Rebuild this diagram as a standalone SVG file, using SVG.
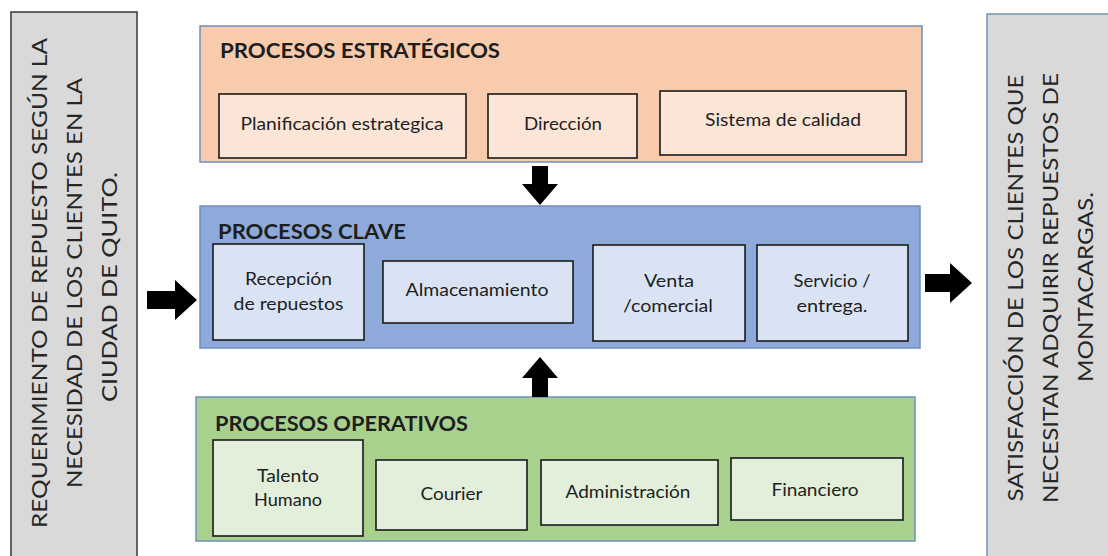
<svg xmlns="http://www.w3.org/2000/svg" width="1108" height="556" viewBox="0 0 1108 556">
<style>
text{font-family:Lato,"Liberation Sans",Arial,sans-serif;fill:#1e1e1e}
.side{font-size:22px;text-anchor:middle;fill:#262626}
.title{font-size:21px;font-weight:bold}
.lbl{font-size:17px;text-anchor:middle}
.inner{stroke:#1a1a1a;stroke-width:1.6}
.outer{stroke:#6d8ebf;stroke-width:1.5}
.arrow{fill:#000}
</style>
<g id="input">
<rect x="11" y="12" width="126" height="560" fill="#d9d9d9" stroke="#404040" stroke-width="1.6"/>
<g transform="rotate(-90)">
<text class="side" x="-283" y="47" textLength="490" lengthAdjust="spacingAndGlyphs">REQUERIMIENTO DE REPUESTO SEGÚN LA</text>
<text class="side" x="-283" y="82" textLength="410" lengthAdjust="spacingAndGlyphs">NECESIDAD DE LOS CLIENTES EN LA</text>
<text class="side" x="-287" y="117" textLength="230" lengthAdjust="spacingAndGlyphs">CIUDAD DE QUITO.</text>
</g>
</g>
<g id="output">
<rect x="987" y="14" width="130" height="560" fill="#d9d9d9" stroke="#7a96bf" stroke-width="1.6"/>
<g transform="rotate(-90)">
<text class="side" x="-288" y="1023" textLength="427" lengthAdjust="spacingAndGlyphs">SATISFACCIÓN DE LOS CLIENTES QUE</text>
<text class="side" x="-288" y="1058" textLength="430" lengthAdjust="spacingAndGlyphs">NECESITAN ADQUIRIR REPUESTOS DE</text>
<text class="side" x="-287" y="1093" textLength="190" lengthAdjust="spacingAndGlyphs">MONTACARGAS.</text>
</g>
</g>
<g id="estrategicos">
<rect class="outer" x="200" y="26" width="722" height="136" fill="#f8cbad"/>
<text class="title" x="220" y="58" textLength="280" lengthAdjust="spacingAndGlyphs">PROCESOS ESTRATÉGICOS</text>
<g id="planificacion"><rect class="inner" x="219" y="94" width="247" height="64" fill="#fbe5d6"/><text class="lbl" x="342" y="130" textLength="203" lengthAdjust="spacingAndGlyphs">Planificación estrategica</text></g>
<g id="direccion"><rect class="inner" x="488" y="94" width="149" height="64" fill="#fbe5d6"/><text class="lbl" x="563" y="130" textLength="78" lengthAdjust="spacingAndGlyphs">Dirección</text></g>
<g id="calidad"><rect class="inner" x="660" y="91" width="246" height="64" fill="#fbe5d6"/><text class="lbl" x="783" y="126" textLength="156" lengthAdjust="spacingAndGlyphs">Sistema de calidad</text></g>
</g>
<g id="clave">
<rect class="outer" x="200" y="206" width="720" height="142" fill="#8eaadb"/>
<text class="title" x="218" y="239" textLength="188" lengthAdjust="spacingAndGlyphs">PROCESOS CLAVE</text>
<g id="recepcion"><rect class="inner" x="213" y="244" width="151" height="96" fill="#dae3f3"/><text class="lbl" x="288.5" y="285" textLength="87" lengthAdjust="spacingAndGlyphs">Recepción</text><text class="lbl" x="288.5" y="310" textLength="110" lengthAdjust="spacingAndGlyphs">de repuestos</text></g>
<g id="almacenamiento"><rect class="inner" x="383" y="261" width="190" height="62" fill="#dae3f3"/><text class="lbl" x="477" y="296" textLength="143" lengthAdjust="spacingAndGlyphs">Almacenamiento</text></g>
<g id="venta"><rect class="inner" x="593" y="245" width="152" height="96" fill="#dae3f3"/><text class="lbl" x="669" y="287" textLength="50" lengthAdjust="spacingAndGlyphs">Venta</text><text class="lbl" x="668" y="312" textLength="90" lengthAdjust="spacingAndGlyphs">/comercial</text></g>
<g id="servicio"><rect class="inner" x="757" y="245" width="151" height="96" fill="#dae3f3"/><text class="lbl" x="832" y="287" textLength="77" lengthAdjust="spacingAndGlyphs">Servicio /</text><text class="lbl" x="832" y="312" textLength="71" lengthAdjust="spacingAndGlyphs">entrega.</text></g>
</g>
<g id="operativos">
<rect class="outer" x="196" y="397" width="719" height="144" fill="#a9d18e"/>
<text class="title" x="215" y="431" textLength="253" lengthAdjust="spacingAndGlyphs">PROCESOS OPERATIVOS</text>
<g id="talento"><rect class="inner" x="213" y="440" width="150" height="96" fill="#e2efda"/><text class="lbl" x="288" y="482" textLength="62" lengthAdjust="spacingAndGlyphs">Talento</text><text class="lbl" x="288" y="506" textLength="68" lengthAdjust="spacingAndGlyphs">Humano</text></g>
<g id="courier"><rect class="inner" x="376" y="460" width="151" height="70" fill="#e2efda"/><text class="lbl" x="451.5" y="500" textLength="62" lengthAdjust="spacingAndGlyphs">Courier</text></g>
<g id="administracion"><rect class="inner" x="541" y="460" width="177" height="65" fill="#e2efda"/><text class="lbl" x="628" y="498" textLength="125" lengthAdjust="spacingAndGlyphs">Administración</text></g>
<g id="financiero"><rect class="inner" x="731" y="458" width="172" height="62" fill="#e2efda"/><text class="lbl" x="815" y="496" textLength="87" lengthAdjust="spacingAndGlyphs">Financiero</text></g>
</g>
<g id="connectors">
<polygon class="arrow" points="532,166 548,166 548,184 558,184 540,205 522,184 532,184"/>
<polygon class="arrow" points="532,397 548,397 548,378 558,378 540,357 522,378 532,378"/>
<polygon class="arrow" points="147,291 175,291 175,280 197,300 175,320 175,309 147,309"/>
<polygon class="arrow" points="925,274 950,274 950,263 972,283 950,303 950,292 925,292"/>
</g>
</svg>
